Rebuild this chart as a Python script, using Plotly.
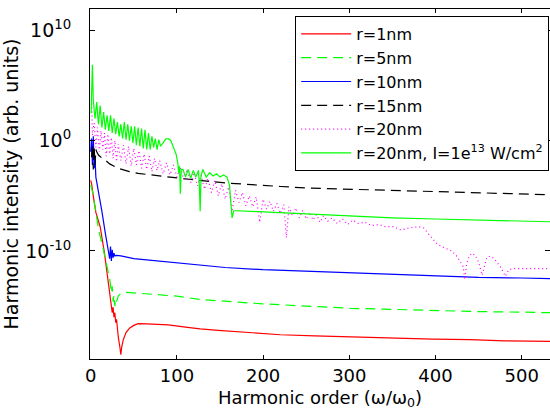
import numpy as np
import plotly.graph_objects as go

# ---- data (harmonic order, log10 of intensity) ----
r1_h = [0, 1, 3, 6, 11, 16, 20, 24, 25, 26, 27, 28, 29, 30, 31, 32, 34, 35, 36, 38, 41, 45, 50, 55, 65, 80, 90, 110, 127, 148, 180, 220, 260, 301, 340, 397, 440, 480, 533]
r1_L = [-3.6, -3.9, -5.0, -6.5, -7.8, -10.2, -12.6, -15.0, -15.6, -15.1, -16.0, -15.6, -16.5, -16.2, -17.2, -17.8, -18.8, -19.4, -18.7, -18.0, -17.4, -17.0, -16.75, -16.6, -16.62, -16.65, -16.7, -16.9, -17.07, -17.2, -17.4, -17.6, -17.7, -17.8, -17.9, -18.0, -18.05, -18.15, -18.2]

r5_h = [0, 2, 5, 9, 13, 17, 20, 22, 24, 25, 26, 27, 28, 29, 30, 32, 35, 40, 50, 60, 80, 100, 127, 160, 200, 250, 301, 350, 397, 450, 500, 533]
r5_L = [-4.0, -4.6, -6.0, -8.0, -9.3, -10.6, -11.7, -12.5, -13.8, -13.2, -14.6, -14.0, -15.0, -14.3, -14.6, -14.1, -13.85, -13.75, -13.8, -13.85, -13.95, -14.1, -14.4, -14.6, -14.8, -15.0, -15.2, -15.3, -15.4, -15.5, -15.55, -15.6]

r10_h = [0, 1, 2, 3, 4, 5, 6, 9, 13, 17, 20, 22, 23, 24, 25, 26, 27, 28, 30, 35, 50, 70, 90, 127, 156, 200, 250, 301, 350, 397, 450, 500, 533]
r10_L = [-1.0, 0.2, -2.2, 0.4, -2.5, -1.5, -3.3, -4.5, -6.4, -8.4, -9.8, -10.7, -9.6, -10.9, -9.9, -10.6, -10.2, -10.45, -10.4, -10.45, -10.7, -10.85, -11.0, -11.3, -11.5, -11.7, -11.85, -12.0, -12.15, -12.3, -12.4, -12.45, -12.5]

r15_h = [1, 2, 3, 4, 5, 6, 7, 9, 12, 16, 22, 32, 45, 55, 70, 90, 120, 160, 185, 220, 254, 300, 336, 380, 430, 480, 533]
r15_L = [-1.5, -0.3, -2.6, -0.5, -2.2, -0.8, -1.0, -1.3, -1.5, -1.7, -2.1, -2.5, -2.8, -2.96, -3.1, -3.3, -3.55, -3.85, -4.0, -4.15, -4.3, -4.4, -4.47, -4.6, -4.72, -4.82, -4.9]

r20_h = [1, 2, 4, 6, 8, 10, 12, 14, 16, 18, 20, 22, 24, 26, 28, 30, 32, 35, 38, 41, 44, 47, 50, 53, 56, 59, 62, 65, 68, 71, 74, 77, 80, 84, 88, 92, 96, 100, 104, 108, 112, 116, 120, 124, 128, 132, 136, 140, 144, 148, 152, 156, 160, 164, 168, 172, 176, 180, 184, 188, 192, 196, 200, 204, 208, 212, 216, 220, 224, 227, 230, 234, 238, 242, 246, 250, 254, 258, 262, 266, 270, 275, 280, 286, 292, 298, 304, 310, 318, 326, 334, 342, 351, 360, 370, 380, 386, 392, 397, 401, 407, 413, 419, 425, 429, 432, 434, 436, 439, 442, 446, 450, 454, 456, 459, 461, 465, 470, 475, 481, 485, 490, 533]
r20_L = [4.1, 0.5, 1.6, -0.6, 1.2, -1.0, 0.9, -0.8, 0.7, -1.4, 0.6, -1.2, 0.3, -1.6, 0.0, -1.9, -0.3, -1.8, -0.4, -2.1, -0.5, -2.3, -0.7, -2.2, -0.9, -2.5, -1.2, -2.6, -1.4, -2.8, -1.6, -2.7, -1.8, -3.0, -2.0, -3.1, -2.2, -3.3, -2.4, -3.5, -2.6, -3.8, -2.9, -4.1, -3.1, -4.4, -3.4, -4.7, -3.6, -5.0, -3.9, -5.3, -4.2, -6.4, -4.5, -5.6, -4.7, -5.9, -5.0, -6.0, -5.1, -7.4, -5.3, -6.2, -5.5, -6.4, -5.7, -6.6, -5.8, -8.8, -6.0, -6.8, -6.1, -7.0, -6.3, -7.1, -6.5, -7.2, -6.7, -7.4, -6.8, -7.3, -7.0, -7.5, -7.1, -7.6, -7.2, -7.5, -7.4, -7.7, -7.6, -7.8, -7.8, -8.1, -7.9, -7.8, -7.9, -8.5, -9.0, -9.3, -9.6, -9.8, -10.0, -10.5, -11.0, -11.4, -12.6, -11.2, -10.5, -10.2, -10.4, -11.0, -12.2, -11.5, -10.7, -10.5, -10.5, -10.9, -11.4, -12.3, -11.7, -11.6, -11.6]

hi_h = [0.5, 2, 3, 5, 7, 9, 11, 13, 15, 17, 19, 21, 23, 25, 27, 29, 31, 33, 35, 37, 39, 41, 43, 45, 47, 49, 51, 53, 55, 57, 59, 61, 63, 65, 67, 69, 71, 73, 75, 77, 79, 81, 84, 87, 90, 93, 96, 99, 101, 102, 103, 104, 105, 107, 110, 113, 116, 119, 122, 125, 126, 127, 128, 130, 134, 138, 142, 146, 150, 154, 158, 161, 163, 164, 166, 170, 200, 250, 300, 350, 400, 450, 500, 533]
hi_L = [2.5, 6.9, 3.7, 2.0, 3.5, 1.5, 3.2, 1.2, 2.6, 1.0, 2.3, 0.9, 2.3, 0.7, 2.0, 0.6, 1.7, 0.4, 1.5, 0.2, 1.7, 0.1, 1.5, 0.0, 1.3, -0.2, 1.3, -0.4, 1.2, -0.5, 1.1, -0.7, 1.0, -0.8, 0.7, -0.8, 0.4, -0.6, 0.2, -0.8, 0.1, -0.5, -0.2, 0.15, 0.2, 0.0, -0.6, -1.2, -2.0, -2.9, -2.3, -4.8, -2.6, -2.6, -3.3, -2.6, -3.4, -2.7, -3.3, -2.7, -4.0, -6.4, -3.2, -2.6, -3.3, -2.9, -3.2, -3.0, -3.3, -3.1, -3.3, -4.0, -6.0, -7.0, -6.35, -6.35, -6.45, -6.65, -6.85, -7.0, -7.1, -7.2, -7.3, -7.35]

names = ["r=1nm", "r=5nm", "r=10nm", "r=15nm", "r=20nm",
         "r=20nm, I=1e<sup>13</sup> W/cm<sup>2</sup>"]
colors = ["#FF0000", "#00FF00", "#0000FF", "#000000", "#FF00FF", "#00FF00"]
dashes = ["solid", "10px,6px", "solid", "10px,6px", "1px,3px", "solid"]
series = [(r1_h, r1_L), (r5_h, r5_L), (r10_h, r10_L), (r15_h, r15_L), (r20_h, r20_L), (hi_h, hi_L)]

fig = go.Figure()
for (h, L), nm, c, d in zip(series, names, colors, dashes):
    fig.add_trace(go.Scatter(
        x=h, y=(10.0 ** np.array(L)), mode="lines", name=nm,
        line=dict(color=c, width=1.2, dash=d),
    ))

font = "DejaVu Sans"
fig.update_layout(
    width=550, height=419,
    margin=dict(l=90, r=0, t=9, b=60),
    paper_bgcolor="white", plot_bgcolor="white",
    font=dict(family=font, size=18, color="black"),
    showlegend=True,
    legend=dict(
        x=0.446, y=0.98, xanchor="left", yanchor="top",
        bordercolor="black", borderwidth=1, bgcolor="white",
        font=dict(family=font, size=16, color="black"),
        itemwidth=50, tracegroupgap=0,
    ),
)
fig.update_xaxes(
    range=[-0.8, 532.8], tickvals=[0, 100, 200, 300, 400, 500],
    ticks="inside", ticklen=4, tickcolor="black",
    showline=True, linecolor="black", linewidth=1, mirror="ticks",
    showgrid=False, zeroline=False,
    tickfont=dict(family=font, size=18),
    title=dict(text="Harmonic order (ω/ω<sub>0</sub>)", font=dict(family=font, size=18), standoff=6),
)
fig.update_yaxes(
    type="log", range=[-19.8, 11.95],
    tickvals=[1e-10, 1, 1e10],
    ticktext=["10<sup>-10</sup>", "10<sup>0</sup>", "10<sup>10</sup>"],
    ticks="inside", ticklen=5, tickcolor="black",
    showline=True, linecolor="black", linewidth=1, mirror="ticks",
    showgrid=False, zeroline=False,
    tickfont=dict(family=font, size=19), ticklabelstandoff=14,
    title=dict(text="Harmonic intensity (arb. units)", font=dict(family=font, size=19), standoff=4),
)
fig.write_html("out.html")
